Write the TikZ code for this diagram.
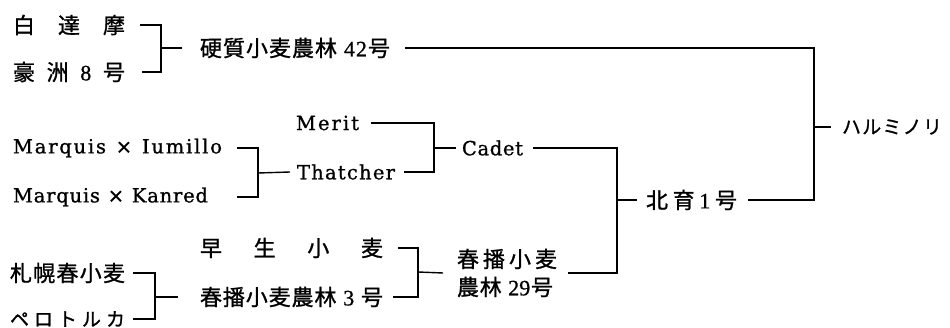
\documentclass[tikz,border=0pt]{standalone}
\usepackage{fontspec}
\setmainfont{Liberation Serif}
\newfontfamily\jp[FakeBold=1.1]{Noto Sans CJK JP}
\newfontfamily\dig[FakeBold=0.8]{Liberation Serif}
\newfontfamily\lat[FakeBold=1.0]{DejaVu Serif}
\def\spr#1#2{\hbox to #1{\sprA#2\relax}}
\def\sprA#1#2\relax{#1\ifx\relax#2\relax\else\hfill\sprA#2\relax\fi}
\tikzset{
  lbl/.style={anchor=west, inner sep=0pt, outer sep=0pt, font=\jp\fontsize{22pt}{26pt}\selectfont},
  kana/.style={anchor=west, inner sep=0pt, outer sep=0pt, font=\jp\fontsize{19pt}{24pt}\selectfont},
  ltn/.style={anchor=west, inner sep=0pt, outer sep=0pt, font=\lat\fontsize{19.5pt}{24pt}\selectfont},
  conn/.style={line width=1.4pt, line join=miter}
}
\begin{document}
\begin{tikzpicture}[x=1pt, y=-1pt]
\fill[white] (0,0) rectangle (950,328);
\useasboundingbox (0,0) rectangle (950,328);
% texts
\node[lbl] (t1) at (13,25) {\spr{112pt}{白達摩}};
\node[lbl] (t2) at (13,72) {\spr{112pt}{豪洲{{\dig 8}}号}};
\node[lbl] (t3) at (200,48) {\spr{190pt}{硬質小麦農林~{{\dig 4}}{{\dig 2}}号}};
\node[ltn] (merit) at (296,123) {\spr{63pt}{Merit}};
\node[ltn] (iu) at (13,148) {\spr{209pt}{Marquis~×~Iumillo}};
\node[ltn] (that) at (297,172) {\spr{98pt}{Thatcher}};
\node[ltn] (ka) at (13,197) {\spr{195pt}{Marquis~×~Kanred}};
\node[ltn] (cadet) at (462,148) {\spr{61pt}{Cadet}};
\node[lbl] (hoku) at (646,200) {\spr{91pt}{北育{{\dig 1}}号}};
\node[kana] (harumi) at (842,127) {\spr{100pt}{ハルミノリ}};
\node[lbl] (wase) at (200,248) {\spr{183pt}{早生小麦}};
\node[lbl] (sap) at (10,273) {\spr{115pt}{札幌春小麦}};
\node[lbl] (sh3) at (200,297) {\spr{183pt}{春播小麦農林~{{\dig 3}}~号}};
\node[kana] (pero) at (10,319) {\spr{115pt}{ペロトルカ}};
\node[lbl, align=left, font=\jp\fontsize{22pt}{28pt}\selectfont] (sh29) at (457,273)
  {\spr{100pt}{春播小麦}\\\spr{96pt}{農林~{{\dig 29}}号}};
% junctions
\coordinate (j1) at (161,48);
\coordinate (jh) at (814,127);
\coordinate (j2) at (258,173);
\coordinate (j3) at (434,148);
\coordinate (j4) at (617,200);
\coordinate (j5) at (418,272);
\coordinate (j6) at (155,297);
% connectors
\draw[conn] ([xshift=15pt]t1.east) -| (j1);
\draw[conn] ([xshift=17pt]t2.east) -| (j1);
\draw[conn] (j1) -- ([xshift=-18pt]t3.west);
\draw[conn] ([xshift=15pt]t3.east) -| (jh);
\draw[conn] ([xshift=11pt]hoku.east) -| (jh);
\draw[conn] (jh) -- ([xshift=-11pt]harumi.west);
\draw[conn] ([xshift=15pt]iu.east) -| (j2);
\draw[conn] ([xshift=29pt]ka.east) -| (j2);
\draw[conn] (j2) -- ([xshift=-7pt]that.west);
\draw[conn] ([xshift=12pt]merit.east) -| (j3);
\draw[conn] ([xshift=9pt]that.east) -| (j3);
\draw[conn] (j3) -- ([xshift=-6pt]cadet.west);
\draw[conn] ([xshift=10pt]cadet.east) -| (j4);
\draw[conn] ([xshift=11pt]sh29.east) -| (j4);
\draw[conn] (j4) -- ([xshift=-9pt]hoku.west);
\draw[conn] ([xshift=15pt]wase.east) -| (j5);
\draw[conn] ([xshift=10pt]sh3.east) -| (j5);
\draw[conn] (j5) -- ([xshift=-14pt]sh29.west);
\draw[conn] ([xshift=8pt]sap.east) -| (j6);
\draw[conn] ([xshift=8pt]pero.east) -| (j6);
\draw[conn] (j6) -- ([xshift=-22pt]sh3.west);
\end{tikzpicture}
\end{document}
